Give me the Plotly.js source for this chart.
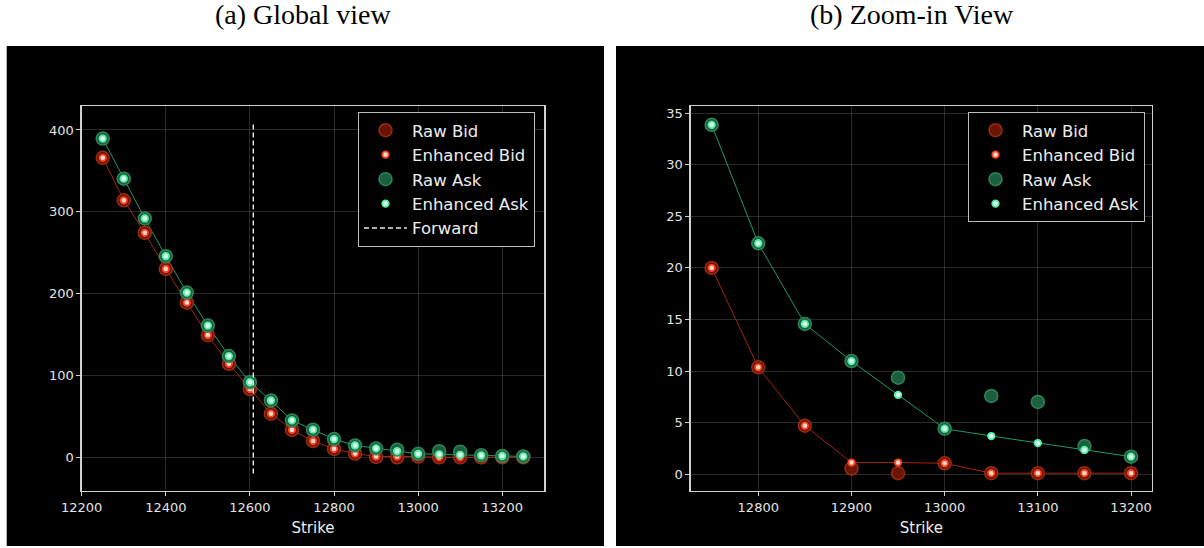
<!DOCTYPE html>
<html>
<head>
<meta charset="utf-8">
<script src="https://cdn.plot.ly/plotly-3.0.1.min.js"></script>
<style>html,body{margin:0;padding:0;background:#fff;}#chart{width:1204px;height:548px;}</style>
</head>
<body>
<div id="chart"></div>
<script>
// ---- data ----
const strikes = [12250,12300,12350,12400,12450,12500,12550,12600,12650,12700,12750,12800,12850,12900,12950,13000,13050,13100,13150,13200,13250];
const rawBid = [366,314,274.3,230.2,189,149.3,114.3,83.5,53.4,33.6,20.0,10.36,4.70,0.55,0.1,1.06,0.1,0.1,0.1,0.1,0.1];
const enhBid = [366,314,274.3,230.2,189,149.3,114.3,83.5,53.4,33.6,20.0,10.36,4.70,1.13,1.13,1.06,0.1,0.1,0.1,0.1,0.1];
const rawAsk = [389.5,340.5,291.9,245.8,201.3,161,123.8,91.8,69.5,45.2,33.87,22.39,14.57,10.97,9.36,4.41,7.59,7.01,2.73,1.70,1.2];
const enhAsk = [389.5,340.5,291.9,245.8,201.3,161,123.8,91.8,69.5,45.2,33.87,22.39,14.57,10.97,7.69,4.41,3.70,3.02,2.35,1.70,1.2];
const forwardX = [12608,12608];
const forwardY = [-19.6,409];
const zoomStrikes = [12750,12800,12850,12900,12950,13000,13050,13100,13150,13200];
const panelTitles = ["(a) Global view","(b) Zoom-in View"];
const xTitle = "Strike";

// ---- helpers ----
const W = 1204, H = 548;
const zi = strikes.indexOf(zoomStrikes[0]);
const zj = strikes.indexOf(zoomStrikes[zoomStrikes.length-1]) + 1;
const sub = a => a.slice(zi, zj);

const st = {
  bidLine: '#a3250a', askLine: '#1f9a62',
  rawBid: {size: 13, color: 'rgba(125,24,4,0.85)', line: {color: 'rgba(165,45,20,0.9)', width: 1.5}},
  enhBid: {size: 6.5, color: '#ffd8cc', line: {color: '#ff3d1c', width: 1.8}},
  rawAsk: {size: 13, color: 'rgba(30,105,70,0.9)', line: {color: 'rgba(50,140,95,0.9)', width: 1.5}},
  enhAsk: {size: 6.5, color: '#e0fff0', line: {color: '#55f0a5', width: 1.8}}
};

function panel(xa, ya, legend, x, rb, eb, ra, ea, withFwd) {
  const t = [
    {x: x, y: eb, xaxis: xa, yaxis: ya, mode: 'lines', line: {color: st.bidLine, width: 1}, showlegend: false, hoverinfo: 'skip'},
    {x: x, y: ea, xaxis: xa, yaxis: ya, mode: 'lines', line: {color: st.askLine, width: 1}, showlegend: false, hoverinfo: 'skip'},
    {x: x, y: rb, xaxis: xa, yaxis: ya, mode: 'markers', name: 'Raw Bid', marker: st.rawBid, legend: legend},
    {x: x, y: eb, xaxis: xa, yaxis: ya, mode: 'markers', name: 'Enhanced Bid', marker: st.enhBid, legend: legend},
    {x: x, y: ra, xaxis: xa, yaxis: ya, mode: 'markers', name: 'Raw Ask', marker: st.rawAsk, legend: legend},
    {x: x, y: ea, xaxis: xa, yaxis: ya, mode: 'markers', name: 'Enhanced Ask', marker: st.enhAsk, legend: legend}
  ];
  if (withFwd) t.push({x: forwardX, y: forwardY, xaxis: xa, yaxis: ya, mode: 'lines', name: 'Forward', line: {color: '#e8e8e8', width: 1.4, dash: '5px,3px'}, legend: legend});
  return t;
}

const traces = [].concat(
  panel('x', 'y', 'legend', strikes, rawBid, enhBid, rawAsk, enhAsk, true),
  panel('x2', 'y2', 'legend2', zoomStrikes, sub(rawBid), sub(enhBid), sub(rawAsk), sub(enhAsk), false)
);

const tickFont = {family: 'DejaVu Sans', size: 13, color: '#e4e4e4'};
function axis(extra) {
  return Object.assign({
    showline: true, mirror: true, linecolor: '#d0d0d0', linewidth: 1.3,
    ticks: 'outside', ticklen: 4, tickwidth: 1, tickcolor: '#d0d0d0',
    showgrid: true, gridcolor: 'rgba(255,255,255,0.16)', gridwidth: 1,
    zeroline: false, tickfont: tickFont, automargin: false, tickformat: 'd'
  }, extra);
}
const yDom = [(H - 490.7) / H, (H - 106) / H];
const legendBase = {
  font: {family: 'DejaVu Sans', size: 16.5, color: '#eeeeee'},
  bgcolor: '#000', bordercolor: '#bdbdbd', borderwidth: 1,
  xanchor: 'right', yanchor: 'top', y: 1 - 112 / H, tracegroupgap: 0, itemwidth: 43
};

const layout = {
  width: W, height: H,
  margin: {l: 0, r: 0, t: 0, b: 0},
  paper_bgcolor: '#ffffff', plot_bgcolor: '#000000',
  showlegend: true,
  xaxis: axis({domain: [81.7 / W, 544.3 / W], range: [12200, 13300], tickvals: [12200,12400,12600,12800,13000,13200], anchor: 'y',
    title: {text: xTitle, font: {family: 'DejaVu Sans', size: 15, color: '#eeeeee'}, standoff: 9}}),
  yaxis: axis({domain: yDom, range: [-40.7, 429.3], tickvals: [0,100,200,300,400], anchor: 'x'}),
  xaxis2: axis({domain: [690.7 / W, 1152 / W], range: [12727.5, 13222.5], tickvals: [12800,12900,13000,13100,13200], anchor: 'y2',
    title: {text: xTitle, font: {family: 'DejaVu Sans', size: 15, color: '#eeeeee'}, standoff: 9}}),
  yaxis2: axis({domain: yDom, range: [-1.6, 35.7], tickvals: [0,5,10,15,20,25,30,35], anchor: 'x2'}),
  legend: Object.assign({}, legendBase, {x: 535 / W}),
  legend2: Object.assign({}, legendBase, {x: 1145 / W}),
  shapes: [
    {type: 'rect', xref: 'paper', yref: 'paper', x0: 6.7 / W, x1: 604 / W, y0: 1 - 546 / H, y1: 1 - 46 / H, fillcolor: '#000', line: {width: 0}, layer: 'below'},
    {type: 'rect', xref: 'paper', yref: 'paper', x0: 616 / W, x1: 1, y0: 1 - 546 / H, y1: 1 - 46 / H, fillcolor: '#000', line: {width: 0}, layer: 'below'}
  ],
  annotations: [
    {text: panelTitles[0], xref: 'paper', yref: 'paper', x: 303 / W, y: 1 - 15 / H, xanchor: 'center', yanchor: 'middle', showarrow: false,
      font: {family: 'Liberation Serif', size: 28, color: '#000'}},
    {text: panelTitles[1], xref: 'paper', yref: 'paper', x: 912 / W, y: 1 - 15 / H, xanchor: 'center', yanchor: 'middle', showarrow: false,
      font: {family: 'Liberation Serif', size: 28, color: '#000'}}
  ]
};

Plotly.newPlot('chart', traces, layout, {displayModeBar: false, staticPlot: true});
</script>
</body>
</html>
